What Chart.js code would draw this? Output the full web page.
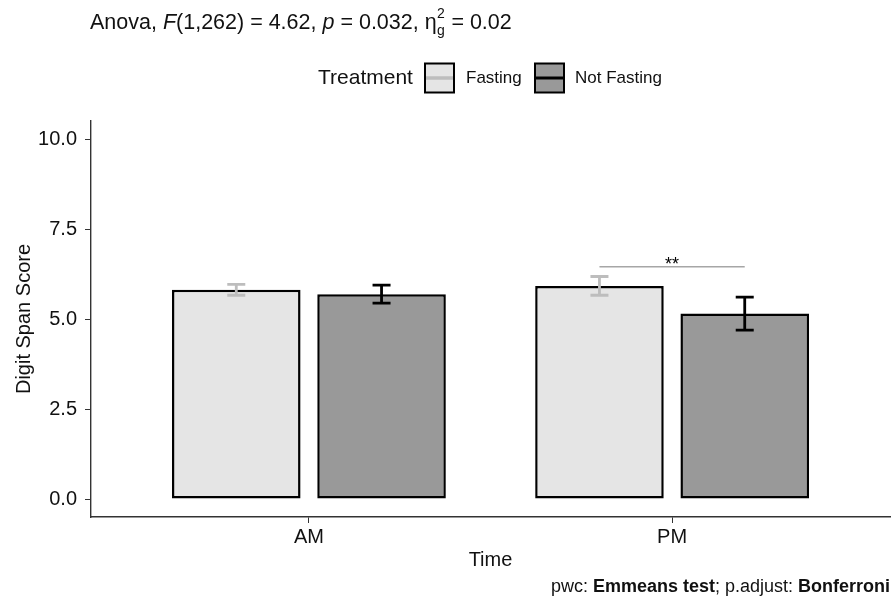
<!DOCTYPE html>
<html><head><meta charset="utf-8">
<script src="https://cdn.jsdelivr.net/npm/chart.js@4"></script>
<style>html,body{margin:0;padding:0;background:#fff}#wrap{width:892px;height:601px;position:relative}</style>
</head><body><div id="wrap"><canvas id="c" width="892" height="601"></canvas></div>
<script>
// ---- data ----
const categories = ['AM', 'PM'];
const seriesNames = ['Fasting', 'Not Fasting'];
const fastingMeans = [5.81, 5.92];
const fastingSE = [0.15, 0.26];
const notFastingMeans = [5.69, 5.15];
const notFastingSE = [0.25, 0.46];
const yTickValues = [0, 2.5, 5, 7.5, 10];
const sigCategory = 1;        // PM
const sigLevel = 6.45;
const sigLabel = '**';
const titleParts = [
  {t: 'Anova, '}, {t: 'F', i: true}, {t: '(1,262) = 4.62, '}, {t: 'p', i: true},
  {t: ' = 0.032, '}, {t: '\u03B7'}, {sup: '2', sub: 'g'}, {t: ' = 0.02'}
];
const legendTitle = 'Treatment';
const captionParts = [{t: 'pwc: '}, {t: 'Emmeans test', b: true}, {t: '; p.adjust: '}, {t: 'Bonferroni', b: true}];

// ---- styles ----
const FF = '"Liberation Sans", Arial, sans-serif';
const fills = ['#e5e5e5', '#999999'];
const errColors = ['#bdbdbd', '#000000'];
const means = [fastingMeans, notFastingMeans];
const ses = [fastingSE, notFastingSE];

const extras = {
  id: 'extras',
  afterDatasetsDraw(chart) {
    const ctx = chart.ctx, ys = chart.scales.y;
    ctx.save();
    // error bars
    for (let d = 0; d < 2; d++) {
      const meta = chart.getDatasetMeta(d);
      meta.data.forEach((el, i) => {
        const x = el.x;
        const yT = ys.getPixelForValue(means[d][i] + ses[d][i]);
        const yB = ys.getPixelForValue(means[d][i] - ses[d][i]);
        const cw = 9;
        ctx.strokeStyle = errColors[d];
        ctx.lineWidth = 2.8;
        ctx.lineCap = 'butt';
        ctx.beginPath();
        ctx.moveTo(x, yT); ctx.lineTo(x, yB);
        ctx.moveTo(x - cw, yT); ctx.lineTo(x + cw, yT);
        ctx.moveTo(x - cw, yB); ctx.lineTo(x + cw, yB);
        ctx.stroke();
      });
    }
    // significance bracket
    const x1 = chart.getDatasetMeta(0).data[sigCategory].x;
    const x2 = chart.getDatasetMeta(1).data[sigCategory].x;
    const yy = ys.getPixelForValue(sigLevel);
    ctx.strokeStyle = '#a6a6a6';
    ctx.lineWidth = 1.4;
    ctx.beginPath(); ctx.moveTo(x1, yy); ctx.lineTo(x2, yy); ctx.stroke();
    ctx.fillStyle = '#000';
    ctx.font = '18px ' + FF;
    ctx.textAlign = 'center';
    ctx.textBaseline = 'alphabetic';
    ctx.fillText(sigLabel, (x1 + x2) / 2, yy + 3.5);
    ctx.restore();
  },
  afterDraw(chart) {
    const ctx = chart.ctx;
    ctx.save();
    ctx.fillStyle = '#111';
    ctx.textBaseline = 'alphabetic';
    ctx.textAlign = 'left';
    // title
    let x = 90; const base = 29;
    titleParts.forEach(p => {
      if (p.t !== undefined) {
        ctx.font = (p.i ? 'italic ' : '') + '21.5px ' + FF;
        ctx.fillText(p.t, x, base);
        x += ctx.measureText(p.t).width;
      } else {
        ctx.font = '14px ' + FF;
        ctx.fillText(p.sup, x + 0.5, base - 11);
        ctx.fillText(p.sub, x + 0.5, base + 6);
        x += Math.max(ctx.measureText(p.sup).width, ctx.measureText(p.sub).width) + 1;
      }
    });
    // legend
    const ly = 78;
    ctx.textBaseline = 'middle';
    ctx.font = '21px ' + FF;
    ctx.fillText(legendTitle, 318, ly);
    const boxX = [425, 535], textX = [466, 575];
    for (let d = 0; d < 2; d++) {
      ctx.fillStyle = fills[d];
      ctx.fillRect(boxX[d], ly - 14.5, 29, 29);
      ctx.strokeStyle = '#000';
      ctx.lineWidth = 2;
      ctx.strokeRect(boxX[d], ly - 14.5, 29, 29);
      ctx.strokeStyle = errColors[d];
      ctx.lineWidth = d === 0 ? 3.5 : 3;
      ctx.beginPath(); ctx.moveTo(boxX[d] + 1, ly); ctx.lineTo(boxX[d] + 28, ly); ctx.stroke();
      ctx.fillStyle = '#111';
      ctx.font = '17px ' + FF;
      ctx.fillText(chart.data.datasets[d].label, textX[d], ly);
    }
    // caption
    ctx.textBaseline = 'alphabetic';
    let tw = 0;
    captionParts.forEach(p => { ctx.font = (p.b ? 'bold ' : '') + '18px ' + FF; tw += ctx.measureText(p.t).width; });
    let cx = 890 - tw;
    captionParts.forEach(p => {
      ctx.font = (p.b ? 'bold ' : '') + '18px ' + FF;
      ctx.fillText(p.t, cx, 592);
      cx += ctx.measureText(p.t).width;
    });
    ctx.restore();
  }
};

new Chart(document.getElementById('c'), {
  type: 'bar',
  data: {
    datasets: [
      {label: seriesNames[0], data: categories.map((c, i) => ({x: i + 1, y: fastingMeans[i]})),
       backgroundColor: fills[0], borderColor: '#000', borderWidth: 2.5, borderSkipped: false},
      {label: seriesNames[1], data: categories.map((c, i) => ({x: i + 1, y: notFastingMeans[i]})),
       backgroundColor: fills[1], borderColor: '#000', borderWidth: 2.5, borderSkipped: false}
    ]
  },
  options: {
    responsive: false,
    devicePixelRatio: 1,
    animation: false,
    categoryPercentage: 0.8,
    barPercentage: 0.885,
    layout: {padding: {top: 121, left: 0, right: 2, bottom: 0}},
    plugins: {legend: {display: false}, title: {display: false}, tooltip: {enabled: false}},
    scales: {
      x: {
        type: 'linear', min: 0.4, max: 2.6, offset: false,
        afterBuildTicks: s => { s.ticks = categories.map((c, i) => ({value: i + 1})); },
        afterFit: s => { s.height = 84; },
        ticks: {callback: v => categories[v - 1], font: {family: FF, size: 20}, color: '#111', padding: 2, autoSkip: false, maxRotation: 0},
        grid: {display: true, drawOnChartArea: false, drawTicks: true, tickLength: 6, color: '#333', offset: false},
        border: {display: true, color: '#333', width: 1.4},
        title: {display: true, text: 'Time', font: {family: FF, size: 20}, color: '#111', padding: {top: 0, bottom: 29}}
      },
      y: {
        min: -0.5, max: 10.5,
        afterBuildTicks: s => { s.ticks = yTickValues.map(v => ({value: v})); },
        afterFit: s => { s.width = 91; },
        ticks: {callback: v => v.toFixed(1), font: {family: FF, size: 20}, color: '#111', padding: 8},
        grid: {display: true, drawOnChartArea: false, drawTicks: true, tickLength: 6, color: '#333'},
        border: {display: true, color: '#333', width: 1.4},
        title: {display: true, text: 'Digit Span Score', font: {family: FF, size: 20}, color: '#111', padding: {top: 12, bottom: 0}}
      }
    }
  },
  plugins: [extras]
});
</script></body></html>
